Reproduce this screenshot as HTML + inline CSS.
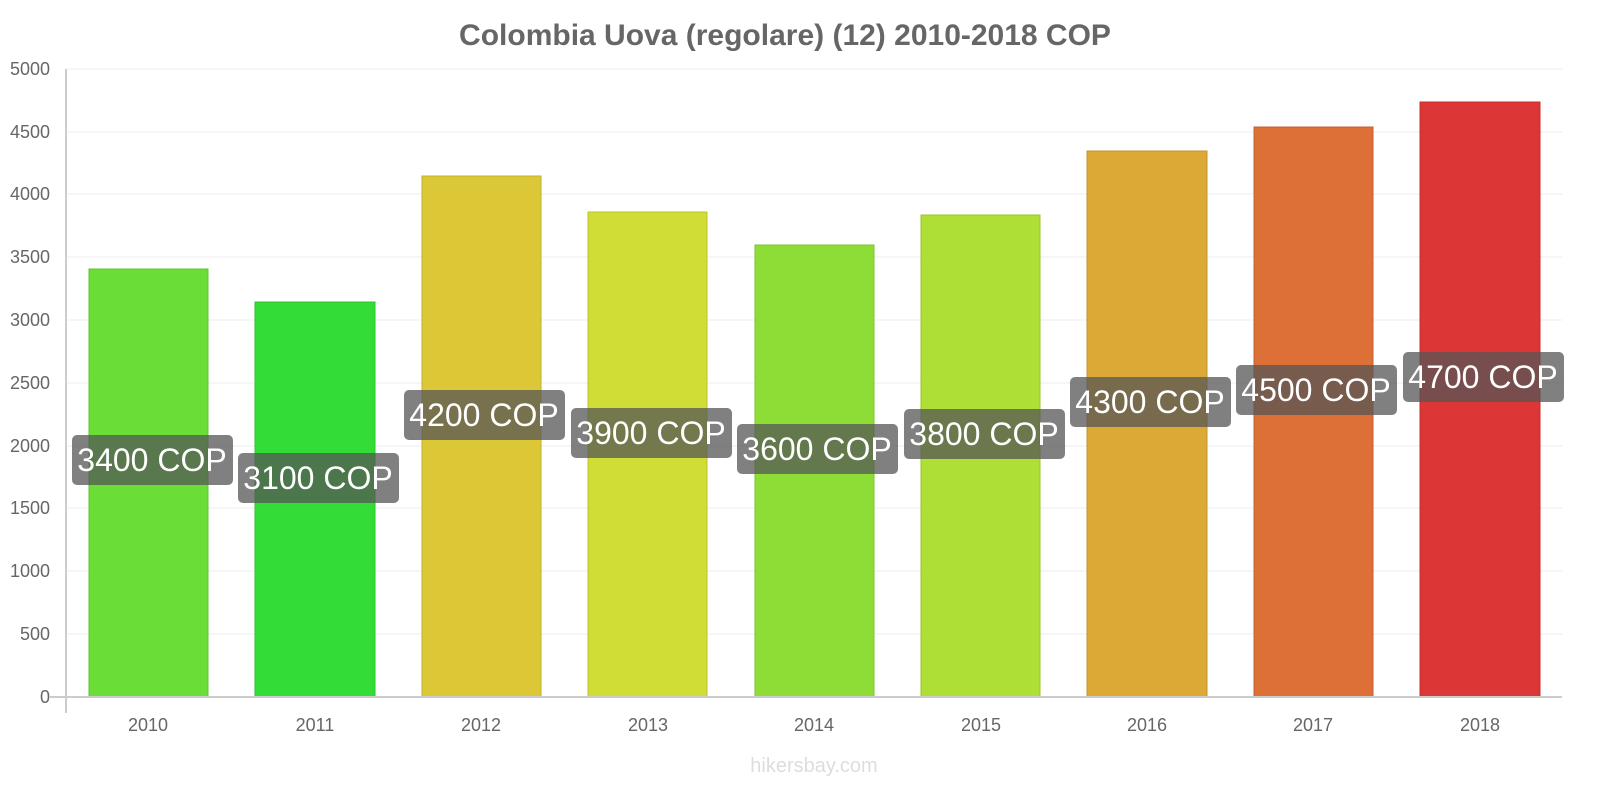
<!DOCTYPE html>
<html><head><meta charset="utf-8"><style>
body{margin:0;background:#fff;}
svg{display:block;font-family:"Liberation Sans",sans-serif;}
</style></head><body>
<svg width="1600" height="800" viewBox="0 0 1600 800">
<text x="785" y="45" text-anchor="middle" font-size="30" font-weight="bold" fill="#666">Colombia Uova (regolare) (12) 2010-2018 COP</text>
<g stroke="#eee" stroke-width="1">
<line x1="66" x2="1562" y1="69" y2="69"/><line x1="66" x2="1562" y1="132" y2="132"/><line x1="66" x2="1562" y1="194" y2="194"/><line x1="66" x2="1562" y1="257" y2="257"/><line x1="66" x2="1562" y1="320" y2="320"/><line x1="66" x2="1562" y1="383" y2="383"/><line x1="66" x2="1562" y1="446" y2="446"/><line x1="66" x2="1562" y1="508" y2="508"/><line x1="66" x2="1562" y1="571" y2="571"/><line x1="66" x2="1562" y1="634" y2="634"/>
</g>
<g font-size="18" fill="#666" text-anchor="end">
<text x="50" y="75">5000</text><text x="50" y="138">4500</text><text x="50" y="200">4000</text><text x="50" y="263">3500</text><text x="50" y="326">3000</text><text x="50" y="389">2500</text><text x="50" y="452">2000</text><text x="50" y="514">1500</text><text x="50" y="577">1000</text><text x="50" y="640">500</text><text x="50" y="703">0</text>
</g>
<g>
<rect x="89" y="269" width="119" height="428" fill="#6ade36" stroke="#5cc42c"/>
<rect x="255" y="302" width="120" height="395" fill="#33dc36" stroke="#2cc42c"/>
<rect x="422" y="176" width="119" height="521" fill="#dcc836" stroke="#c4b02c"/>
<rect x="588" y="212" width="119" height="485" fill="#cfdd36" stroke="#b8c42c"/>
<rect x="755" y="245" width="119" height="452" fill="#8ddd36" stroke="#7cc42c"/>
<rect x="921" y="215" width="119" height="482" fill="#addf36" stroke="#98c42c"/>
<rect x="1087" y="151" width="120" height="546" fill="#dca836" stroke="#c4942c"/>
<rect x="1254" y="127" width="119" height="570" fill="#dc7036" stroke="#c4602c"/>
<rect x="1420" y="102" width="120" height="595" fill="#dc3636" stroke="#c42c2c"/>
</g>
<line x1="66" x2="66" y1="69" y2="713" stroke="#ccc" stroke-width="2"/>
<line x1="50" x2="1562" y1="697" y2="697" stroke="#ccc" stroke-width="2"/>
<g font-size="18" fill="#666" text-anchor="middle">
<text x="148" y="731">2010</text><text x="315" y="731">2011</text><text x="481" y="731">2012</text><text x="648" y="731">2013</text><text x="814" y="731">2014</text><text x="981" y="731">2015</text><text x="1147" y="731">2016</text><text x="1313" y="731">2017</text><text x="1480" y="731">2018</text>
</g>
<g fill="rgba(85,85,85,0.75)">
<rect x="72" y="435" width="161" height="50" rx="5"/>
<rect x="238" y="453" width="161" height="50" rx="5"/>
<rect x="404" y="390" width="161" height="50" rx="5"/>
<rect x="571" y="408" width="161" height="50" rx="5"/>
<rect x="737" y="424" width="161" height="50" rx="5"/>
<rect x="904" y="409" width="161" height="50" rx="5"/>
<rect x="1070" y="377" width="161" height="50" rx="5"/>
<rect x="1236" y="365" width="161" height="50" rx="5"/>
<rect x="1403" y="352" width="161" height="50" rx="5"/>
</g>
<g font-size="32" fill="#fff" text-anchor="middle">
<text x="152" y="471">3400 COP</text>
<text x="318" y="489">3100 COP</text>
<text x="484" y="426">4200 COP</text>
<text x="651" y="444">3900 COP</text>
<text x="817" y="460">3600 COP</text>
<text x="984" y="445">3800 COP</text>
<text x="1150" y="413">4300 COP</text>
<text x="1316" y="401">4500 COP</text>
<text x="1483" y="388">4700 COP</text>
</g>
<text x="814" y="772" text-anchor="middle" font-size="20" fill="#ddd">hikersbay.com</text>
</svg>
</body></html>
